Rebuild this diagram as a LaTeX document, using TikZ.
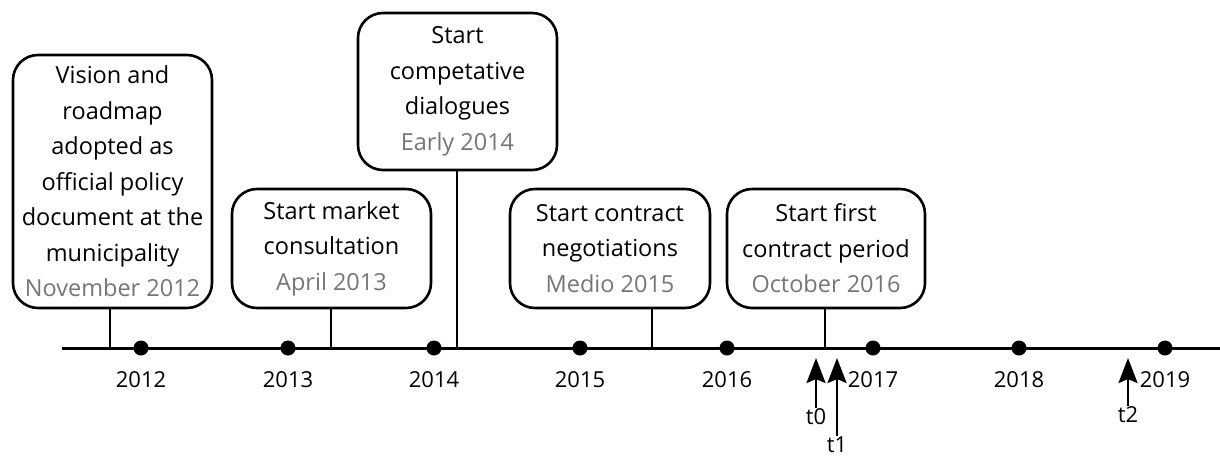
\documentclass[tikz,border=0pt]{standalone}
\usepackage{fontspec}
\setmainfont{Open Sans}
\usetikzlibrary{arrows.meta}
\definecolor{dategray}{RGB}{118,118,118}
\tikzset{
  event/.style={draw=black, line width=2.6pt, rounded corners=25pt, align=center,
    inner sep=0pt, font=\fontsize{23.5}{35.5}\selectfont},
  stem/.style={line width=2.6pt},
  axis/.style={line width=3pt},
  tick/.style={circle, fill=black, inner sep=0pt, minimum size=15pt},
  year/.style={font=\fontsize{22}{26}\selectfont, anchor=center},
  marker/.style={line width=2.6pt, -{Stealth[length=25pt, width=19pt, inset=4pt]}},
  mlabel/.style={font=\fontsize{22}{26}\selectfont, anchor=center, inner sep=1pt},
}
\begin{document}
\begin{tikzpicture}[x=1pt, y=-1pt]
\useasboundingbox (0,0) rectangle (1220,459);

% time axis
\coordinate (a0) at (62,348);
\coordinate (a1) at (1220,348);
\draw[axis] (a0) -- (a1);

% yearly ticks and labels
\foreach \yr/\xx in {2012/141, 2013/288, 2014/434, 2015/580, 2016/727, 2017/873, 2018/1019, 2019/1165} {
  \node[tick] (d\yr) at (\xx,348) {};
  \node[year] (y\yr) at (\xx,380) {\yr};
}

% events
\node[event, minimum width=199pt, minimum height=253pt] (e1) at (112.5,181.5)
  {Vision and\\roadmap\\adopted as\\official policy\\document at the\\municipality\\\textcolor{dategray}{November 2012}};
\node[event, minimum width=199pt, minimum height=119pt] (e2) at (331.5,248.5)
  {Start market\\consultation\\\textcolor{dategray}{April 2013}};
\node[event, minimum width=199pt, minimum height=157pt] (e3) at (457.5,91.5)
  {Start\\competative\\dialogues\\\textcolor{dategray}{Early 2014}};
\node[event, minimum width=200pt, minimum height=119pt] (e4) at (610,248.5)
  {Start contract\\negotiations\\\textcolor{dategray}{Medio 2015}};
\node[event, minimum width=198pt, minimum height=119pt] (e5) at (826,248.5)
  {Start first\\contract period\\\textcolor{dategray}{October 2016}};

% stems from events down to the axis
\coordinate (s1) at (110,348);
\coordinate (s2) at (331,348);
\coordinate (s3) at (457,348);
\coordinate (s4) at (652,348);
\coordinate (s5) at (825,348);
\foreach \i in {1,...,5} {
  \draw[stem] (e\i.south -| s\i) -- (s\i);
}

% measurement moments
\node[mlabel] (t0) at (816,417) {t0};
\node[mlabel] (t1) at (837,445) {t1};
\node[mlabel] (t2) at (1128,415) {t2};
\coordinate (p0) at (816,358);
\coordinate (p1) at (837,358);
\coordinate (p2) at (1128,358);
\draw[marker] (t0.north) -- (p0);
\draw[marker] (t1.north) -- (p1);
\draw[marker] (t2.north) -- (p2);
\end{tikzpicture}
\end{document}
